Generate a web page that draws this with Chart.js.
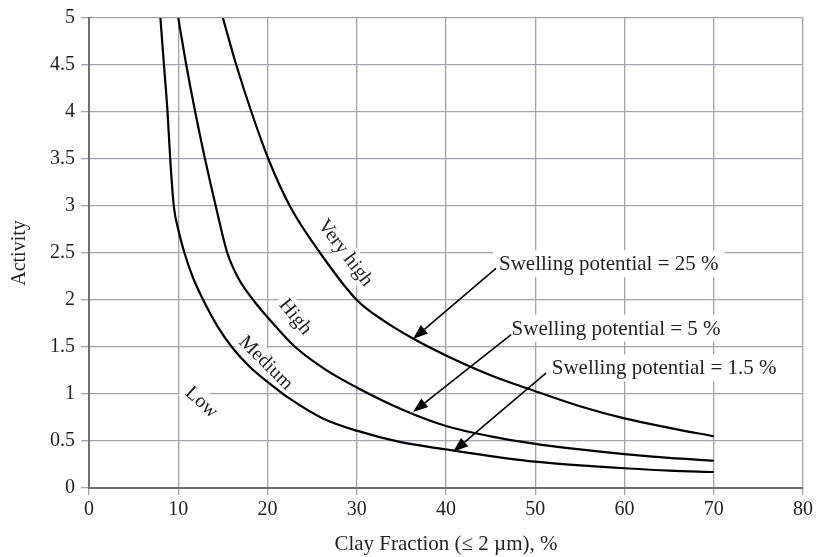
<!DOCTYPE html>
<html>
<head>
<meta charset="utf-8">
<script src="https://cdn.jsdelivr.net/npm/chart.js@4.4.1/dist/chart.umd.min.js"></script>
<style>
  html, body { margin: 0; padding: 0; background: #fff; }
</style>
</head>
<body>
<canvas id="activityChart" width="816" height="557"></canvas>
<script>
// curve data (clay fraction %, activity)
const lowX = [8.0, 8.4, 8.8, 9.1, 9.5, 10.0, 10.7, 11.6, 12.8, 14.4, 16.0, 18.0, 20.0, 22.5, 26.2, 30.0, 34.8, 40.0, 45.0, 50.0, 55.0, 60.0, 65.0, 70.0];
const lowY = [5.0, 4.5, 4.0, 3.5, 3.0, 2.75, 2.5, 2.25, 2.0, 1.72, 1.5, 1.29, 1.13, 0.95, 0.74, 0.61, 0.49, 0.41, 0.34, 0.28, 0.24, 0.21, 0.185, 0.17];

const midX = [10.0, 10.9, 11.9, 13.0, 14.2, 15.5, 16.8, 18.4, 21.0, 23.1, 26.5, 30.0, 35.2, 40.0, 45.0, 50.0, 55.0, 60.0, 65.0, 70.0];
const midY = [5.0, 4.5, 4.0, 3.5, 3.0, 2.5, 2.22, 2.0, 1.71, 1.5, 1.26, 1.07, 0.83, 0.66, 0.55, 0.47, 0.41, 0.36, 0.32, 0.29];

const highX = [15.0, 16.5, 18.2, 20.1, 22.5, 25.9, 30.0, 33.0, 36.3, 40.0, 45.0, 50.0, 55.0, 60.0, 65.0, 70.0];
const highY = [5.0, 4.5, 4.0, 3.5, 3.0, 2.5, 2.0, 1.78, 1.59, 1.41, 1.2, 1.03, 0.87, 0.74, 0.64, 0.55];

// zone labels along the curves
const zoneNames = ['Very high', 'High', 'Medium', 'Low'];
const zoneX = [28.7, 23.1, 19.8, 12.6];
const zoneY = [2.5, 1.82, 1.33, 0.91];
const zoneAngle = [53, 51, 45, 42];

// swelling potential callouts: text anchor, arrow start, arrow tip
const calloutText = ['Swelling potential = 25 %', 'Swelling potential = 5 %', 'Swelling potential = 1.5 %'];
const calloutX = [45.94, 47.35, 51.85];
const calloutY = [2.317, 1.631, 1.208];
const arrowFromX = [45.6, 47.3, 51.2];
const arrowFromY = [2.336, 1.631, 1.221];
const arrowToX = [36.3, 36.3, 40.8];
const arrowToY = [1.585, 0.808, 0.385];

const xTicks = [0, 10, 20, 30, 40, 50, 60, 70, 80];

const FONT = '"Liberation Serif", "Times New Roman", serif';
const INK = '#231f20';

function toPoints(xs, ys) {
  return xs.map((x, i) => ({ x: x, y: ys[i] }));
}

const labelsPlugin = {
  id: 'labels',
  beforeDatasetsDraw(chart) {
    const ctx = chart.ctx;
    const xs = chart.scales.x;
    const ys = chart.scales.y;
    ctx.save();

    // rotated zone names with a white backing
    ctx.font = '20px ' + FONT;
    zoneNames.forEach((name, i) => {
      const px = xs.getPixelForValue(zoneX[i]);
      const py = ys.getPixelForValue(zoneY[i]);
      const w = ctx.measureText(name).width;
      ctx.save();
      ctx.translate(px, py);
      ctx.rotate(zoneAngle[i] * Math.PI / 180);
      ctx.fillStyle = '#fff';
      ctx.fillRect(-w / 2 - 4, -12, w + 8, 22);
      ctx.fillStyle = INK;
      ctx.textAlign = 'center';
      ctx.textBaseline = 'middle';
      ctx.fillText(name, 0, 0);
      ctx.restore();
    });

    // callout texts
    ctx.font = '21px ' + FONT;
    calloutText.forEach((txt, i) => {
      const px = xs.getPixelForValue(calloutX[i]);
      const py = ys.getPixelForValue(calloutY[i]);
      const w = ctx.measureText(txt).width;
      ctx.fillStyle = '#fff';
      ctx.fillRect(px - 6, py - 20, w + 12, 27);
      ctx.fillStyle = INK;
      ctx.textAlign = 'left';
      ctx.textBaseline = 'alphabetic';
      ctx.fillText(txt, px, py);
    });
    ctx.restore();
  },
  afterDatasetsDraw(chart) {
    const ctx = chart.ctx;
    const xs = chart.scales.x;
    const ys = chart.scales.y;
    ctx.save();
    ctx.strokeStyle = '#000';
    ctx.fillStyle = '#000';
    ctx.lineWidth = 1.6;
    arrowToX.forEach((tx, i) => {
      const x0 = xs.getPixelForValue(arrowFromX[i]);
      const y0 = ys.getPixelForValue(arrowFromY[i]);
      const x1 = xs.getPixelForValue(tx);
      const y1 = ys.getPixelForValue(arrowToY[i]);
      const ang = Math.atan2(y1 - y0, x1 - x0);
      const len = 15, half = 5.5;
      const bx = x1 - len * Math.cos(ang);
      const by = y1 - len * Math.sin(ang);
      ctx.beginPath();
      ctx.moveTo(x0, y0);
      ctx.lineTo(bx, by);
      ctx.stroke();
      ctx.beginPath();
      ctx.moveTo(x1, y1);
      ctx.lineTo(bx + half * Math.sin(ang), by - half * Math.cos(ang));
      ctx.lineTo(bx - half * Math.sin(ang), by + half * Math.cos(ang));
      ctx.closePath();
      ctx.fill();
    });
    ctx.restore();
  }
};

const curveStyle = {
  showLine: true,
  borderColor: '#000',
  borderWidth: 2.2,
  pointRadius: 0,
  fill: false,
  cubicInterpolationMode: 'monotone'
};

new Chart(document.getElementById('activityChart'), {
  type: 'scatter',
  data: {
    datasets: [
      Object.assign({ label: 'Swelling potential = 1.5 %', data: toPoints(lowX, lowY) }, curveStyle),
      Object.assign({ label: 'Swelling potential = 5 %', data: toPoints(midX, midY) }, curveStyle),
      Object.assign({ label: 'Swelling potential = 25 %', data: toPoints(highX, highY) }, curveStyle)
    ]
  },
  options: {
    responsive: false,
    animation: false,
    devicePixelRatio: 1,
    layout: { padding: { top: 16, right: 13, left: 0, bottom: 0 } },
    plugins: {
      legend: { display: false },
      tooltip: { enabled: false }
    },
    scales: {
      x: {
        type: 'linear',
        min: 0,
        max: 80,
        afterFit: scale => { scale.height = 69; },
        afterBuildTicks: scale => { scale.ticks = xTicks.map(v => ({ value: v })); },
        grid: { color: '#a3a3ab', lineWidth: 1.3, tickLength: 7 },
        border: { color: '#6e6e74', width: 2 },
        ticks: { color: INK, font: { family: FONT, size: 20 }, padding: 3 },
        title: {
          display: true,
          text: 'Clay Fraction (≤ 2 µm), %',
          color: INK,
          font: { family: FONT, size: 21 },
          padding: { top: 0, bottom: 0 }
        }
      },
      y: {
        type: 'linear',
        min: 0,
        max: 5,
        afterFit: scale => { scale.width = 89; },
        grid: { color: '#a3a3ab', lineWidth: 1.3, tickLength: 8 },
        border: { color: '#6e6e74', width: 2 },
        ticks: {
          stepSize: 0.5,
          color: INK,
          font: { family: FONT, size: 20 },
          padding: 6,
          callback: v => String(v)
        },
        title: {
          display: true,
          text: 'Activity',
          color: INK,
          font: { family: FONT, size: 20 },
          padding: { top: 8, bottom: 0 }
        }
      }
    }
  },
  plugins: [labelsPlugin]
});
</script>
</body>
</html>
